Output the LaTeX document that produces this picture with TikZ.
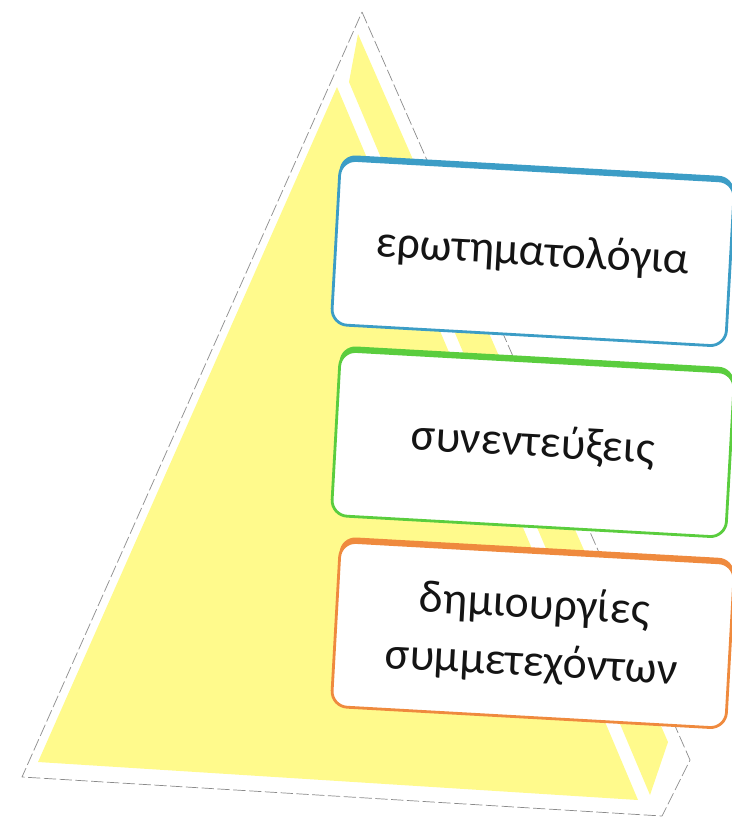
\documentclass[tikz,border=0pt]{standalone}
\usepackage{fontspec}
\setmainfont{Carlito}
\usetikzlibrary{positioning}
\definecolor{cyellow}{HTML}{FFFA8C}
\definecolor{cblue}{HTML}{3C9DC6}
\definecolor{cgreen}{HTML}{5ACD3E}
\definecolor{corange}{HTML}{EF8A3E}
\definecolor{cgrey}{HTML}{8A8A8A}
\definecolor{ctext}{HTML}{141414}
\tikzset{
  every picture/.style={line join=round},
  face/.style={fill=cyellow, draw=none},
  rim/.style={draw=cgrey, line width=0.4pt, dash pattern=on 7pt off 2pt},
  tierback/.style={fill=#1, rounded corners=9pt, minimum width=7.9cm, minimum height=3.3cm, rotate=-3.2, inner sep=0pt},
  tier/.style={draw=#1, fill=white, line width=1.6pt, rounded corners=9pt, minimum width=7.9cm, minimum height=3.3cm, rotate=-3.2, align=center, text=ctext, font=\fontsize{26}{33}\selectfont},
}

\begin{document}
\begin{tikzpicture}[x=0.02cm, y=-0.02cm]
  \useasboundingbox (0,0) rectangle (732,817);
  % pyramid
  \draw[rim] (362,12) -- (690,760) -- (662,816) -- (22,777) -- cycle;
  \fill[face] (337,87) -- (638,800) -- (38,762) -- cycle;
  \fill[face] (358,34) -- (668,742) -- (650,795) -- (349,82) -- cycle;
  % tiers
  \foreach \y/\c/\n in {253/cblue/t1, 444/cgreen/t2, 635/corange/t3}
    \node[tierback=\c] (\n back) at (533,\y-5) {};
  \node[tier=cblue] (t1) at (533,253) {ερωτηματολόγια};
  \node[tier=cgreen] (t2) at (533,444) {συνεντεύξεις};
  \node[tier=corange] (t3) at (533,635) {δημιουργίες\\συμμετεχόντων};
\end{tikzpicture}
\end{document}
